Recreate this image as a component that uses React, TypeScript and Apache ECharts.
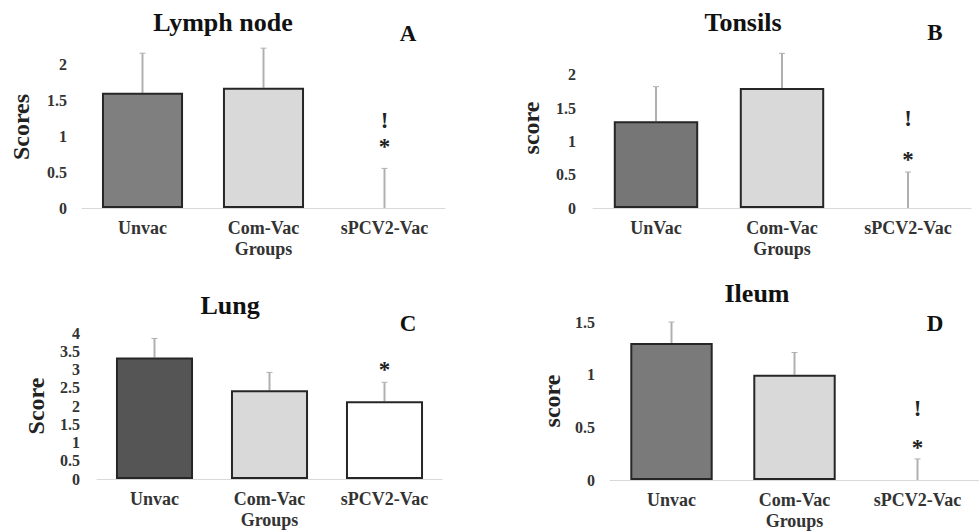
import React, { useEffect, useRef } from "react";
import * as echarts from "echarts";

// ---------- data ----------
const groupsA = ["Unvac", "Com-Vac", "sPCV2-Vac"];
const groupsB = ["UnVac", "Com-Vac", "sPCV2-Vac"];
const groupsC = ["Unvac", "Com-Vac", "sPCV2-Vac"];
const groupsD = ["Unvac", "Com-Vac", "sPCV2-Vac"];

const lymphMeans = [1.6, 1.67, 0];
const lymphErr = [0.55, 0.55, 0.55];
const tonsilMeans = [1.3, 1.8, 0];
const tonsilErr = [0.52, 0.52, 0.54];
const lungMeans = [3.33, 2.43, 2.13];
const lungErr = [0.52, 0.49, 0.52];
const ileumMeans = [1.3, 1.0, 0];
const ileumErr = [0.2, 0.21, 0.2];

// significance marks: [group index, score level, symbol]
const lymphMarks: [number, number, string][] = [[2, 1.22, "!"], [2, 0.92, "*"]];
const tonsilMarks: [number, number, string][] = [[2, 1.35, "!"], [2, 0.81, "*"]];
const lungMarks: [number, number, string][] = [[2, 3.14, "*"]];
const ileumMarks: [number, number, string][] = [[2, 0.68, "!"], [2, 0.36, "*"]];

const titles = ["Lymph node", "Tonsils", "Lung", "Ileum"];
const letters = ["A", "B", "C", "D"];
const yNames = ["Scores", "score", "Score", "score"];
const yMax = [2.25, 2.4, 4, 1.5];
const xName = "Groups";

// ---------- styles ----------
const FONT = "Liberation Serif, Times New Roman, serif";
const BORDER = "#262626";
const ERR = "#b0b0b0";
const fillsA = ["#7f7f7f", "#d9d9d9", "#ffffff"];
const fillsB = ["#767676", "#d9d9d9", "#ffffff"];
const fillsC = ["#555555", "#d9d9d9", "#ffffff"];
const fillsD = ["#7a7a7a", "#d9d9d9", "#ffffff"];

const grids = [
  { left: 82, top: 46, width: 363, height: 162 },
  { left: 593, top: 48, width: 378, height: 160 },
  { left: 97, top: 333, width: 345, height: 146 },
  { left: 610, top: 322, width: 375, height: 158 },
];
const yNameGaps = [49, 50, 49, 46];
const yLabelMargins = [15, 17, 17, 15];
const titlePos = [
  [223, 22],
  [743, 22],
  [230, 305],
  [757, 293],
];
const letterPos = [
  [408, 33],
  [935, 32],
  [408, 323],
  [935, 323],
];

const panels = [
  { cats: groupsA, means: lymphMeans, err: lymphErr, marks: lymphMarks, fills: fillsA },
  { cats: groupsB, means: tonsilMeans, err: tonsilErr, marks: tonsilMarks, fills: fillsB },
  { cats: groupsC, means: lungMeans, err: lungErr, marks: lungMarks, fills: fillsC },
  { cats: groupsD, means: ileumMeans, err: ileumErr, marks: ileumMarks, fills: fillsD },
];

function buildOption() {
  const grid: any[] = [];
  const xAxis: any[] = [];
  const yAxis: any[] = [];
  const series: any[] = [];
  const graphic: any[] = [];

  panels.forEach((p, i) => {
    grid.push({ ...grids[i], containLabel: false });
    xAxis.push({
      type: "category",
      gridIndex: i,
      data: p.cats,
      boundaryGap: true,
      axisLine: { show: true, lineStyle: { color: "#d9d9d9", width: 1 } },
      axisTick: { show: false },
      splitLine: { show: false },
      axisLabel: {
        interval: 0,
        margin: 11,
        fontFamily: FONT,
        fontWeight: "bold",
        fontSize: 18,
        color: "#333",
      },
      name: xName,
      nameLocation: "middle",
      nameGap: 32,
      nameTextStyle: { fontFamily: FONT, fontWeight: "bold", fontSize: 18, color: "#333" },
    });
    yAxis.push({
      type: "value",
      gridIndex: i,
      min: 0,
      max: yMax[i],
      interval: 0.5,
      axisLine: { show: false },
      axisTick: { show: false },
      splitLine: { show: false },
      axisLabel: {
        margin: yLabelMargins[i],
        showMaxLabel: yMax[i] % 0.5 === 0,
        fontFamily: FONT,
        fontWeight: "bold",
        fontSize: 16,
        color: "#333",
      },
      name: yNames[i],
      nameLocation: "middle",
      nameRotate: 90,
      nameGap: yNameGaps[i],
      nameTextStyle: { fontFamily: FONT, fontWeight: "bold", fontSize: 24, color: "#222" },
    });

    series.push({
      type: "bar",
      xAxisIndex: i,
      yAxisIndex: i,
      barCategoryGap: "33%",
      data: p.means.map((v, k) => ({
        value: v,
        itemStyle: {
          color: p.fills[k],
          borderColor: BORDER,
          borderWidth: v === 0 ? 0 : 2,
        },
      })),
    });

    series.push({
      type: "custom",
      xAxisIndex: i,
      yAxisIndex: i,
      clip: false,
      z: 1,
      data: p.means.map((v, k) => [k, v, v + p.err[k]]),
      renderItem: (params: any, api: any) => {
        const lo = api.coord([api.value(0), api.value(1)]);
        const hi = api.coord([api.value(0), api.value(2)]);
        const st = { stroke: ERR, lineWidth: 2 };
        return {
          type: "group",
          children: [
            { type: "line", shape: { x1: lo[0], y1: lo[1], x2: hi[0], y2: hi[1] }, style: st },
            { type: "line", shape: { x1: hi[0] - 3, y1: hi[1], x2: hi[0] + 3, y2: hi[1] }, style: { stroke: ERR, lineWidth: 1 } },
          ],
        };
      },
    });

    series.push({
      type: "custom",
      xAxisIndex: i,
      yAxisIndex: i,
      clip: false,
      data: p.marks.map((m) => [m[0], m[1], m[2]]),
      renderItem: (params: any, api: any) => {
        const c = api.coord([api.value(0), api.value(1)]);
        const sym = p.marks[params.dataIndex][2];
        return {
          type: "text",
          x: c[0],
          y: c[1] + (sym === "*" ? 5 : 0),
          style: {
            text: sym,
            fontFamily: FONT,
            fontWeight: "bold",
            fontSize: 23,
            fill: "#222",
            align: "center",
            verticalAlign: "middle",
          },
        };
      },
    });

    graphic.push({
      type: "text",
      x: titlePos[i][0],
      y: titlePos[i][1],
      style: {
        text: titles[i],
        fontFamily: FONT,
        fontWeight: "bold",
        fontSize: 26,
        fill: "#111",
        align: "center",
        verticalAlign: "middle",
      },
    });
    graphic.push({
      type: "text",
      x: letterPos[i][0],
      y: letterPos[i][1],
      style: {
        text: letters[i],
        fontFamily: FONT,
        fontWeight: "bold",
        fontSize: 23,
        fill: "#111",
        align: "center",
        verticalAlign: "middle",
      },
    });
  });

  return {
    animation: false,
    backgroundColor: "#ffffff",
    textStyle: { fontFamily: FONT },
    grid,
    xAxis,
    yAxis,
    series,
    graphic,
  };
}

export default function App() {
  const ref = useRef<HTMLDivElement>(null);
  useEffect(() => {
    if (!ref.current) return;
    const chart = echarts.init(ref.current, undefined, { renderer: "svg" });
    chart.setOption(buildOption() as any);
    return () => chart.dispose();
  }, []);
  return (
    <div
      ref={ref}
      style={{ position: "fixed", left: 0, top: 0, width: 979, height: 531, background: "#fff" }}
    />
  );
}
